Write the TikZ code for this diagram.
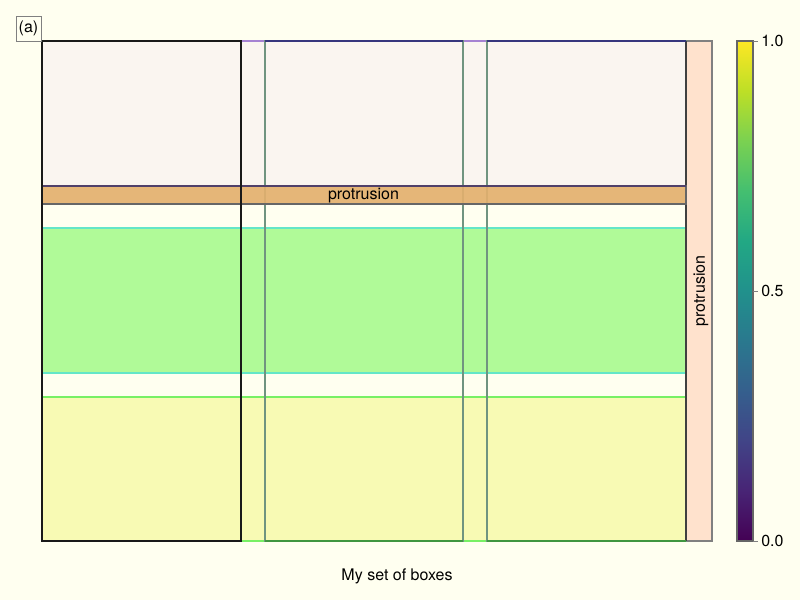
\documentclass[tikz,border=0pt]{standalone}
\usepackage{fontspec}
\setmainfont{TeX Gyre Heros}
\usepackage{tikz}
\definecolor{ivory}{RGB}{255,255,240}
\definecolor{linen}{RGB}{250,245,240}
\definecolor{sandy}{RGB}{227,176,110}
\definecolor{palegreen}{RGB}{176,250,152}
\definecolor{paleyellow}{RGB}{248,250,180}
\definecolor{peach}{RGB}{255,226,205}
\definecolor{colgray}{RGB}{112,148,128}
\definecolor{lavender}{RGB}{165,130,210}
\definecolor{darkpurple}{RGB}{80,64,106}
\definecolor{aqua}{RGB}{100,230,200}
\definecolor{lightgreen}{RGB}{120,240,100}
\definecolor{vir0}{HTML}{440154}
\definecolor{vir1}{HTML}{482475}
\definecolor{vir2}{HTML}{414487}
\definecolor{vir3}{HTML}{355F8D}
\definecolor{vir4}{HTML}{2A788E}
\definecolor{vir5}{HTML}{21918C}
\definecolor{vir6}{HTML}{22A884}
\definecolor{vir7}{HTML}{44BF70}
\definecolor{vir8}{HTML}{7AD151}
\definecolor{vir9}{HTML}{BDDF26}
\definecolor{vir10}{HTML}{FDE725}
\pgfdeclareverticalshading{viridis}{100bp}{color(0bp)=(vir0); color(25bp)=(vir0); color(30bp)=(vir1); color(35bp)=(vir2); color(40bp)=(vir3); color(45bp)=(vir4); color(50bp)=(vir5); color(55bp)=(vir6); color(60bp)=(vir7); color(65bp)=(vir8); color(70bp)=(vir9); color(75bp)=(vir10); color(100bp)=(vir10)}

\begin{document}
\begin{tikzpicture}[x=0.75pt,y=-0.75pt,font=\fontsize{12}{14}\selectfont,
    colbox/.style={draw=colgray,line width=0.9pt},
    tick/.style={draw=gray,line width=0.75pt}]
        \fill[ivory] (0,0) rectangle (800,600);
        \useasboundingbox (0,0) rectangle (800,600);
        % bands
        \fill[linen] (42,41) rectangle (686,186);
        \draw[lavender,line width=1pt] (42,41) -- (686,41);
        \fill[palegreen] (42,228) rectangle (686,373);
        \draw[aqua,line width=1pt] (42,228) -- (686,228) (42,373) -- (686,373);
        \fill[paleyellow] (42,397) rectangle (686,541);
        \draw[lightgreen,line width=1pt] (42,397) -- (686,397) (42,541) -- (686,541);
        % right protrusion
        \draw[fill=peach,draw=gray,line width=0.9pt] (686,41) rectangle (712,541);
        \node[rotate=90] (protrusionV) at (701,291) {protrusion};
        % columns
        \draw[colbox] (265,41) rectangle (463,541);
        \draw[colbox] (487,41) rectangle (686,541);
        \draw[colbox,draw=black!75] (686,41) -- (686,541);
        \draw[colbox,draw=green!45!black!75] (265,541) -- (463,541) (487,541) -- (686,541);
        \draw[colbox,draw=gray!60!blue!70!black] (265,41) -- (463,41) (487,41) -- (686,41);
        % orange band
        \draw[fill=sandy,fill opacity=0.92,draw=gray!80!black,line width=0.8pt] (42,186) rectangle (686,204);
        \draw[darkpurple,line width=1.2pt] (42,186) -- (686,186);
        \node (protrusionH) at (363.5,196) {protrusion};
        \draw[black!90,line width=1.6pt] (42,41) rectangle (241,541);
        % colorbar
        \shade[shading=viridis] (737,41) rectangle (753,541);
        \draw[gray!80!black,line width=0.8pt] (737,41) rectangle (753,541);
        \foreach \y/\v in {41/1.0,291/0.5,541/0.0}{
          \draw[tick] (753,\y) -- (758,\y);
          \node[anchor=west,inner sep=0pt] (tick\v) at (761,\y) {\v};
        }
        \node[draw=gray,line width=0.75pt,minimum width=18.75pt,minimum height=18.75pt,inner sep=0pt] (panelLabel) at (28.5,28.5) {(a)};
        \node (xlabel) at (397,576) {My set of boxes};
    \end{tikzpicture}
\end{document}
